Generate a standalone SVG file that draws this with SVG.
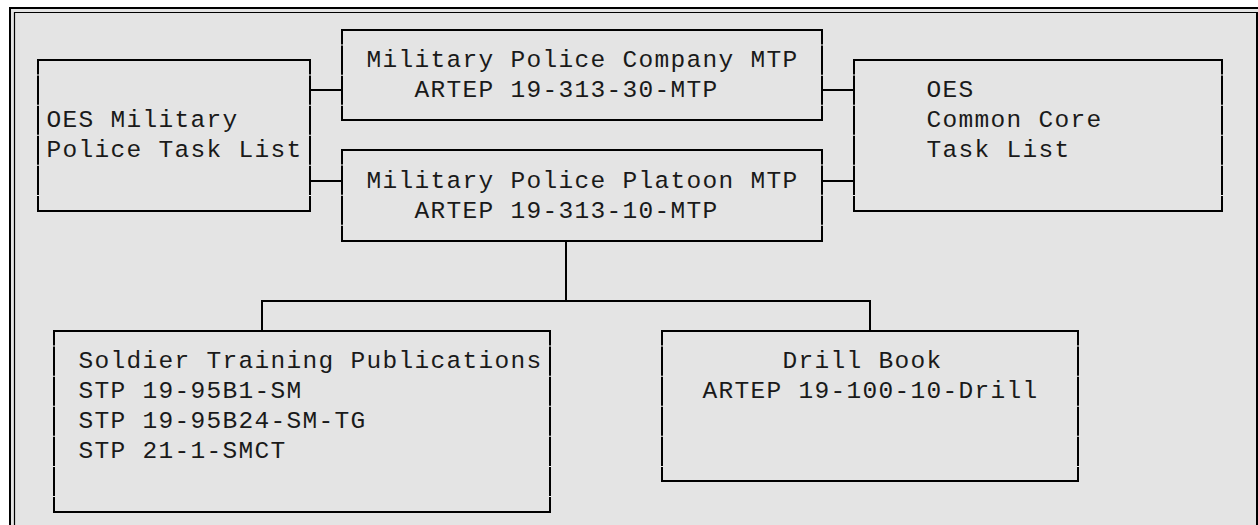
<svg xmlns="http://www.w3.org/2000/svg" width="1258" height="525" viewBox="0 0 1258 525">
  <style>
    .edge { fill: none; stroke: #000; stroke-width: 2; }
    .side { fill: none; stroke: #000; stroke-width: 2; stroke-dasharray: 29.1 1; stroke-dashoffset: 14.55; }
    .wire { fill: none; stroke: #000; stroke-width: 2; }
    .frame { fill: none; stroke: #000; }
    text { font-family: "Liberation Mono", "Courier New", monospace; font-size: 24.5px; letter-spacing: 1.3px; fill: #1a1a1a; white-space: pre; }
  </style>

  <!-- page background and double frame -->
  <rect x="0" y="0" width="1258" height="525" fill="#ffffff"/>
  <rect x="9" y="7" width="1249" height="518" fill="#e4e4e4"/>
  <g id="frame" class="frame">
    <line x1="9" y1="8" x2="1258" y2="8" stroke-width="2"/>
    <line x1="14" y1="12.5" x2="1258" y2="12.5" stroke-width="1.2"/>
    <line x1="10" y1="7" x2="10" y2="525" stroke-width="2"/>
    <line x1="14.5" y1="12" x2="14.5" y2="525" stroke-width="1.2"/>
    <line x1="1257" y1="12" x2="1257" y2="525" stroke-width="2"/>
  </g>

  <!-- connectors -->
  <g id="connectors" class="wire">
    <line x1="310" y1="90" x2="342" y2="90"/>
    <line x1="310" y1="181" x2="342" y2="181"/>
    <line x1="822" y1="90" x2="854" y2="90"/>
    <line x1="822" y1="181" x2="854" y2="181"/>
    <polyline points="566,241 566,301"/>
    <polyline points="262,331 262,301 870,301 870,331"/>
  </g>

  <g id="oes-mp-task-list">
    <path class="edge" d="M37,60 H311 M37,211 H311"/>
    <line class="side" x1="38" y1="60" x2="38" y2="211"/>
    <line class="side" x1="310" y1="60" x2="310" y2="211"/>
    <text x="46.5" y="127">OES Military</text>
    <text x="46.5" y="157">Police Task List</text>
  </g>

  <g id="mp-company-mtp">
    <path class="edge" d="M341,30 H823 M341,120 H823"/>
    <line class="side" x1="342" y1="30" x2="342" y2="120"/>
    <line class="side" x1="822" y1="30" x2="822" y2="120"/>
    <text x="366.5" y="67">Military Police Company MTP</text>
    <text x="414.5" y="97">ARTEP 19-313-30-MTP</text>
  </g>

  <g id="mp-platoon-mtp">
    <path class="edge" d="M341,150 H823 M341,241 H823"/>
    <line class="side" x1="342" y1="150" x2="342" y2="241"/>
    <line class="side" x1="822" y1="150" x2="822" y2="241"/>
    <text x="366.5" y="188">Military Police Platoon MTP</text>
    <text x="414.5" y="218">ARTEP 19-313-10-MTP</text>
  </g>

  <g id="oes-common-core">
    <path class="edge" d="M853,60 H1223 M853,211 H1223"/>
    <line class="side" x1="854" y1="60" x2="854" y2="211"/>
    <line class="side" x1="1222" y1="60" x2="1222" y2="211"/>
    <text x="926.5" y="97">OES</text>
    <text x="926.5" y="127">Common Core</text>
    <text x="926.5" y="157">Task List</text>
  </g>

  <g id="soldier-training-pubs">
    <path class="edge" d="M53,331 H551 M53,512 H551"/>
    <line class="side" x1="54" y1="331" x2="54" y2="512"/>
    <line class="side" x1="550" y1="331" x2="550" y2="512"/>
    <text x="78.5" y="368">Soldier Training Publications</text>
    <text x="78.5" y="398">STP 19-95B1-SM</text>
    <text x="78.5" y="428">STP 19-95B24-SM-TG</text>
    <text x="78.5" y="458">STP 21-1-SMCT</text>
  </g>

  <g id="drill-book">
    <path class="edge" d="M661,331 H1079 M661,481 H1079"/>
    <line class="side" x1="662" y1="331" x2="662" y2="481"/>
    <line class="side" x1="1078" y1="331" x2="1078" y2="481"/>
    <text x="782.5" y="368">Drill Book</text>
    <text x="702.5" y="398">ARTEP 19-100-10-Drill</text>
  </g>
</svg>
